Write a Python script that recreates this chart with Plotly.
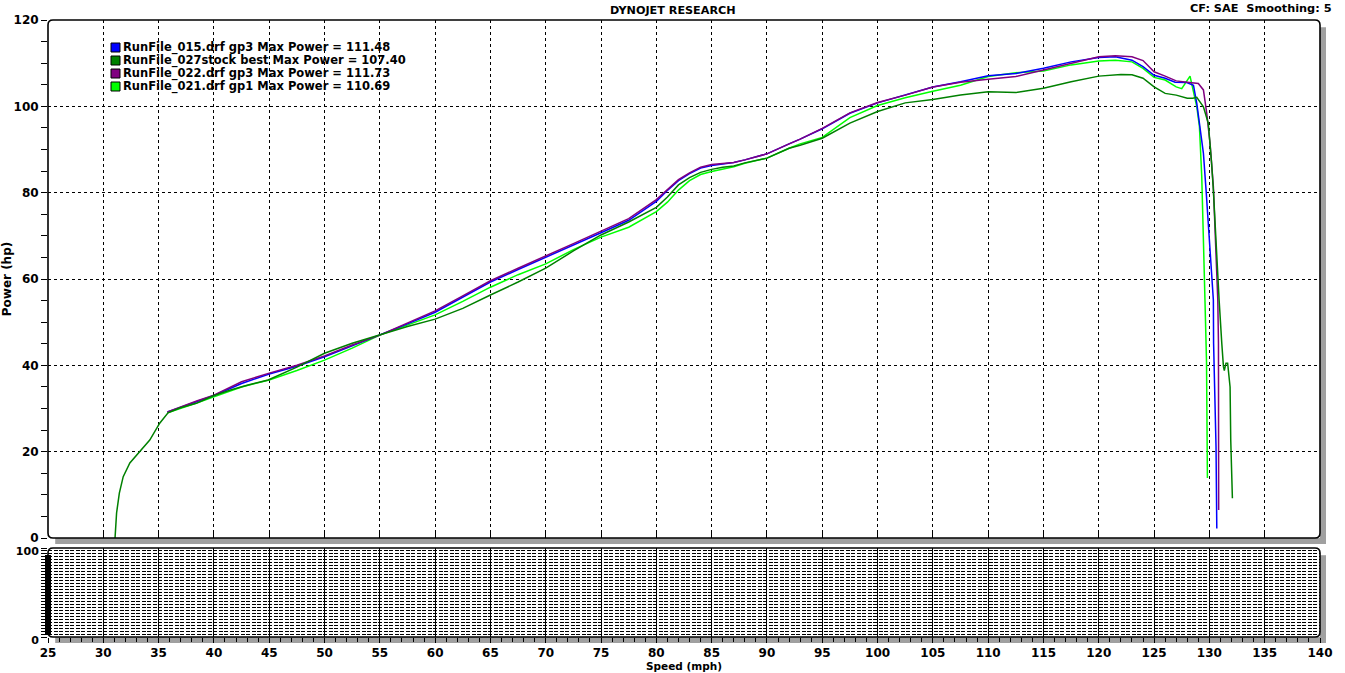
import plotly.graph_objects as go

# ---------------- data ----------------
names = [
    "RunFile_015.drf gp3 Max Power = 111.48",
    "RunFile_027stock best Max Power = 107.40",
    "RunFile_022.drf gp3 Max Power = 111.73",
    "RunFile_021.drf gp1 Max Power = 110.69",
]
colors = ["#0000ff", "#008000", "#800080", "#00ff00"]

blue_x = [35.8, 37, 38.5, 40, 42.5, 45, 47.5, 50, 52.5, 55, 57.5, 60, 62.5, 65, 67.5, 70, 72.5, 75, 77.5,
          80, 81, 82, 83, 84, 85, 86, 87, 88, 90, 92, 93, 95, 97.5, 100, 102.5, 105, 107.5, 110, 112.5,
          115, 117.5, 120, 121.5, 123, 124, 125, 126, 126.9, 127.95, 128.56, 128.86, 129.16, 129.46,
          129.7, 130.36, 130.38, 130.5, 130.6, 130.67]
blue_y = [29.2, 30.3, 31.6, 33.0, 35.8, 38.0, 39.8, 42.0, 44.5, 47.0, 49.6, 52.3, 55.8, 59.3, 62.2, 65.0,
          67.8, 70.7, 73.6, 78.0, 80.5, 82.8, 84.4, 85.7, 86.3, 86.7, 87.0, 87.6, 89.0, 91.3, 92.4, 94.8,
          98.4, 100.8, 102.6, 104.5, 105.7, 107.1, 107.6, 108.8, 110.3, 111.3, 111.48, 110.7, 109.2,
          107.2, 106.5, 105.6, 105.5, 104.9, 100.7, 95.3, 89.1, 80.6, 55.1, 45.1, 33.5, 21.1, 2.2]

stock_x = [31.06, 31.2, 31.45, 31.8, 32.4, 33.3, 34.2, 35.1, 35.85, 36.9, 38.4, 39.9, 41.5, 43.0, 44.9,
           47.5, 50, 52.5, 55, 57.5, 60, 62.5, 65, 67.5, 70, 72.5, 75, 77.5, 80, 81, 82, 83, 84, 85, 86,
           87, 88, 90, 92, 93, 95, 97.5, 100, 102.5, 105, 107.5, 110, 112.5, 115, 117.5, 120, 122, 123,
           124, 125, 126, 127, 128, 128.5, 128.86, 129.46, 129.9, 130.2, 130.36, 130.88, 130.97, 131.12,
           131.27, 131.35, 131.5, 131.65, 131.87, 131.93, 132.08]
stock_y = [0, 5.8, 10.4, 14.2, 17.4, 20.0, 22.7, 26.6, 29.0, 30.1, 31.2, 32.9, 34.3, 35.4, 36.6, 39.6,
           42.8, 45.1, 47.0, 49.0, 50.7, 53.2, 56.3, 59.3, 62.5, 66.5, 70.2, 73.2, 76.6, 79.0, 81.8, 83.5,
           84.7, 85.4, 85.9, 86.2, 86.9, 88.0, 90.3, 91.0, 92.6, 96.1, 98.8, 100.8, 101.6, 102.6, 103.4,
           103.2, 104.2, 105.7, 107.0, 107.4, 107.3, 106.5, 104.5, 103.0, 102.6, 101.9, 101.9, 102.1,
           99.9, 96.1, 86.8, 80.6, 55.1, 50.5, 45.1, 39.7, 38.8, 40.5, 40.5, 35.0, 22.7, 9.2]

purple_x = [35.8, 37, 38.5, 40, 42.5, 45, 47.5, 50, 52.5, 55, 57.5, 60, 62.5, 65, 67.5, 70, 72.5, 75, 77.5,
            80, 81, 82, 83, 84, 85, 86, 87, 88, 90, 92, 93, 95, 97.5, 100, 102.5, 105, 107.5, 110, 112.5,
            115, 117.5, 120, 121.5, 123, 124, 125, 126, 127, 128, 129.0, 129.46, 129.76, 130.06, 130.36,
            130.76, 130.82, 130.84]
purple_y = [29.2, 30.4, 31.8, 33.1, 36.2, 38.2, 40.0, 42.2, 44.7, 47.0, 49.8, 52.6, 56.1, 59.6, 62.5, 65.3,
            68.2, 71.1, 74.0, 78.4, 80.8, 83.0, 84.6, 85.9, 86.5, 86.8, 87.0, 87.6, 89.0, 91.3, 92.4, 94.9,
            98.5, 100.9, 102.6, 104.5, 105.6, 106.3, 106.9, 108.4, 110.0, 111.5, 111.73, 111.5, 110.6,
            108.0, 107.0, 105.9, 105.6, 105.3, 103.8, 98.4, 91.4, 81.4, 55.1, 45.1, 6.5]

green_x = [35.8, 37, 38.5, 40, 42.5, 45, 47.5, 50, 52.5, 55, 57.5, 60, 62.5, 65, 67.5, 70, 72.5, 75, 77.5,
           80, 81, 82, 83, 84, 85, 86, 87, 88, 90, 92, 93, 95, 97.5, 100, 102.5, 105, 107.5, 110, 112.5,
           115, 117.5, 120, 121.5, 123, 124, 125, 126, 127, 127.5, 128.25, 128.86, 129.1, 129.2, 129.31,
           129.6, 129.74, 129.82]
green_y = [29.0, 30.0, 31.3, 32.7, 35.0, 36.6, 38.8, 41.2, 44.0, 47.0, 49.3, 51.7, 54.8, 58.1, 61.0, 63.5,
           66.8, 69.7, 72.0, 75.6, 77.8, 80.6, 82.8, 84.2, 84.9, 85.5, 86.0, 86.8, 88.0, 90.3, 91.3, 92.8,
           97.4, 100.2, 102.0, 103.5, 104.9, 106.9, 107.8, 108.2, 109.6, 110.5, 110.69, 110.3, 108.8,
           106.7, 106.1, 104.5, 104.1, 107.0, 99.9, 95.3, 88.9, 83.7, 55.1, 40.8, 13.9]

x_ticks = [25, 30, 35, 40, 45, 50, 55, 60, 65, 70, 75, 80, 85, 90, 95, 100, 105, 110, 115, 120, 125, 130, 135, 140]
y_ticks = [0, 20, 40, 60, 80, 100, 120]

# ---------------- figure ----------------
FONT = "DejaVu Sans"
W, H = 1345, 673
ML, MR, MT, MB = 48, 25, 20, 36
PW, PH = W - ML - MR, H - MT - MB
LEFT, BOTTOM = ML, H - MB     # plot-area left / bottom in pixels
main_bottom = (BOTTOM - 538) / PH
low_top = (BOTTOM - 548) / PH


def px_x(p):
    return (p - LEFT) / PW


def px_y(p):
    return (BOTTOM - p) / PH


fig = go.Figure()
series = [(green_x, green_y, 3), (blue_x, blue_y, 0), (purple_x, purple_y, 2), (stock_x, stock_y, 1)]
for xs, ys, i in series:
    fig.add_trace(go.Scatter(x=xs, y=ys, mode="lines", name=names[i],
                             line=dict(color=colors[i], width=1.5), showlegend=False,
                             xaxis="x", yaxis="y"))
fig.add_trace(go.Scatter(x=[None], y=[None], xaxis="x2", yaxis="y2", showlegend=False))

tickfont = dict(family=FONT, size=12, color="black", weight="bold")

fig.update_layout(
    width=W, height=H,
    margin=dict(l=ML, r=MR, t=MT, b=MB, autoexpand=False),
    paper_bgcolor="white", plot_bgcolor="white",
    font=dict(family=FONT, color="black"),
    xaxis=dict(domain=[0, 1], anchor="y", range=[25, 140], tickvals=x_ticks, showticklabels=False,
               ticks="inside", ticklen=5, tickcolor="black", showgrid=True, gridcolor="black",
               griddash="3px,3px", gridwidth=1, zeroline=False, showline=False, automargin=False),
    yaxis=dict(domain=[main_bottom, 1], anchor="x", range=[0, 120], tickvals=y_ticks,
               ticks="outside", ticklen=6, tickcolor="black", tickfont=tickfont,
               minor=dict(dtick=5, ticks="outside", ticklen=6, tickcolor="black", showgrid=False),
               showgrid=True, gridcolor="black", griddash="3px,3px", gridwidth=1, zeroline=False,
               showline=False, automargin=False,
               title=dict(text="Power (hp)", font=dict(family=FONT, size=12, weight="bold"), standoff=4)),
    xaxis2=dict(domain=[0, 1], anchor="y2", range=[25, 140], tickvals=x_ticks, tickfont=tickfont,
                ticks="outside", ticklen=5, tickcolor="black",
                minor=dict(dtick=1, ticks="outside", ticklen=4, tickcolor="black", showgrid=False),
                showgrid=True, gridcolor="black", gridwidth=1, zeroline=False, showline=False,
                automargin=False,
                title=dict(text="Speed (mph)", font=dict(family=FONT, size=10.5, weight="bold"), standoff=1)),
    yaxis2=dict(domain=[0, low_top], anchor="x2", range=[0, 100], tickvals=[0, 100],
                tickfont=dict(family=FONT, size=11, color="black", weight="bold"),
                ticklabelshift=3,
                ticks="outside", ticklen=6, tickcolor="black",
                minor=dict(tick0=0, dtick=100 / 30, ticks="outside", ticklen=6, tickcolor="black",
                           showgrid=True, gridcolor="black", griddash="4px,1.5px", gridwidth=1),
                showgrid=False, zeroline=False, showline=False, automargin=False),
)


# rounded borders and shadows
def rounded(x0, y0, x1, y1, r=5):
    rx, ry = r / PW, r / PH
    return (f"M {x0+rx},{y1} L {x1-rx},{y1} Q {x1},{y1} {x1},{y1-ry} L {x1},{y0+ry} "
            f"Q {x1},{y0} {x1-rx},{y0} L {x0+rx},{y0} Q {x0},{y0} {x0},{y0+ry} "
            f"L {x0},{y1-ry} Q {x0},{y1} {x0+rx},{y1} Z")


sx, sy = 6 / PW, 6 / PH
shapes = []
for y0, y1 in [(main_bottom, 1.0), (0.0, low_top)]:
    shapes.append(dict(type="rect", xref="paper", yref="paper", x0=1, x1=1 + sx,
                       y0=y0 - sy, y1=y1 - 1.2 * sy, fillcolor="#a0a0a0", line_width=0, layer="below"))
    shapes.append(dict(type="rect", xref="paper", yref="paper", x0=1.2 * sx, x1=1 + sx,
                       y0=y0 - sy, y1=y0, fillcolor="#a0a0a0", line_width=0, layer="below"))
    shapes.append(dict(type="path", xref="paper", yref="paper", path=rounded(0, y0, 1, y1),
                       line=dict(color="black", width=1.6), layer="above"))

# dense tick bar at the left of the lower panel
shapes.append(dict(type="rect", xref="paper", yref="paper", x0=px_x(45), x1=px_x(51),
                   y0=px_y(635), y1=px_y(555), fillcolor="black", line_width=0, layer="above"))

# legend swatches + text
leg_rows = [47.5, 60.5, 73.5, 86.5]
annotations = []
for i, py in enumerate(leg_rows):
    yc = px_y(py)
    shapes.append(dict(type="rect", xref="paper", yref="paper",
                       x0=px_x(111), x1=px_x(120), y0=yc - 4.5 / PH, y1=yc + 4.5 / PH,
                       fillcolor=colors[i], line=dict(color="black", width=1), layer="above"))
    annotations.append(dict(xref="paper", yref="paper", x=px_x(121), y=yc, xanchor="left",
                            yanchor="middle", showarrow=False, text=names[i],
                            font=dict(family=FONT, size=11.5, color="black", weight="bold")))

annotations.append(dict(xref="paper", yref="paper", x=px_x(673), y=px_y(10),
                        xanchor="center", yanchor="middle", showarrow=False, text="DYNOJET RESEARCH",
                        font=dict(family=FONT, size=11.2, color="black", weight="bold")))
annotations.append(dict(xref="paper", yref="paper", x=px_x(1334), y=px_y(8),
                        xanchor="right", yanchor="middle", showarrow=False, text="CF: SAE  Smoothing: 5",
                        font=dict(family=FONT, size=11.3, color="black", weight="bold")))

fig.update_layout(shapes=shapes, annotations=annotations)
fig.write_html("out.html", config={"displayModeBar": False},
               post_script="document.body.style.margin='0';document.body.style.overflow='hidden';")
